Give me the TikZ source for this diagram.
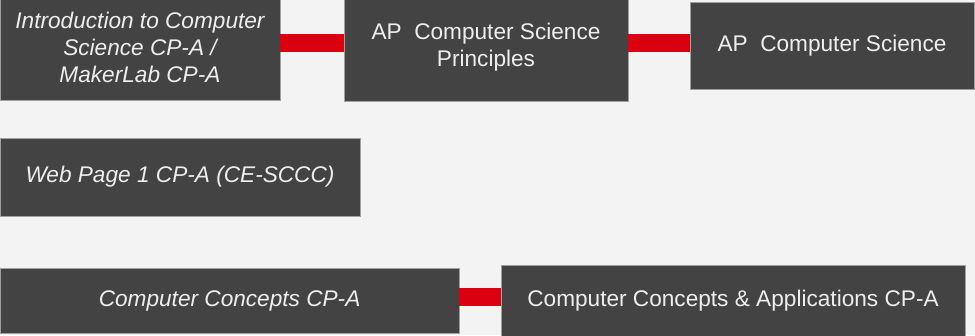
\documentclass[tikz,border=0pt]{standalone}
\usepackage{fontspec}
\setmainfont{Liberation Sans}
\usetikzlibrary{positioning}
\definecolor{pagegray}{RGB}{243,243,243}
\definecolor{boxgray}{RGB}{67,67,67}
\definecolor{edgegray}{RGB}{160,160,160}
\definecolor{textgray}{RGB}{238,238,238}
\definecolor{linkred}{RGB}{218,0,16}

\begin{document}
\begin{tikzpicture}[
  font=\fontsize{16.1}{19.2}\selectfont,
  course/.style={rectangle, fill=boxgray, draw=edgegray, line width=0.5pt,
                 text=textgray, align=center, inner sep=0pt},
  cpcourse/.style={course, font=\fontsize{16.1}{19.2}\selectfont\itshape},
  link/.style={draw=linkred, line width=0.45cm}
]

% Page
\fill[pagegray, use as bounding box] (0,0) rectangle (24.375,8.375);

% Top row
\node[cpcourse, minimum width=7cm, minimum height=2.65cm] (intro) at (3.5,7.2)
  {Introduction to Computer\\Science CP-A /\\MakerLab CP-A};
\node[course, minimum width=7.1cm, minimum height=2.675cm] (apcsp) at (12.15,7.19)
  {AP~ Computer Science\\Principles};
\node[course, minimum width=7.1cm, minimum height=2.175cm] (apcsa) at (20.8,7.24)
  {AP~ Computer Science};

% Middle row
\node[cpcourse, minimum width=9cm, minimum height=1.95cm] (webpage) at (4.5,3.95)
  {Web Page 1 CP-A (CE-SCCC)};

% Bottom row
\node[cpcourse, minimum width=11.475cm, minimum height=1.625cm] (concepts) at (5.74,0.86)
  {Computer Concepts CP-A};
\node[course, minimum width=11.6cm, minimum height=1.775cm] (apps) at (18.325,0.86)
  {Computer Concepts \& Applications CP-A};

% Links
\draw[link] ([yshift=1mm]intro.east) -- ([yshift=1mm]intro.east -| apcsp.west);
\draw[link] ([yshift=1mm]apcsp.east) -- ([yshift=1mm]apcsp.east -| apcsa.west);
\draw[link] ([yshift=1mm]concepts.east) -- ([yshift=1mm]concepts.east -| apps.west);

\end{tikzpicture}
\end{document}
